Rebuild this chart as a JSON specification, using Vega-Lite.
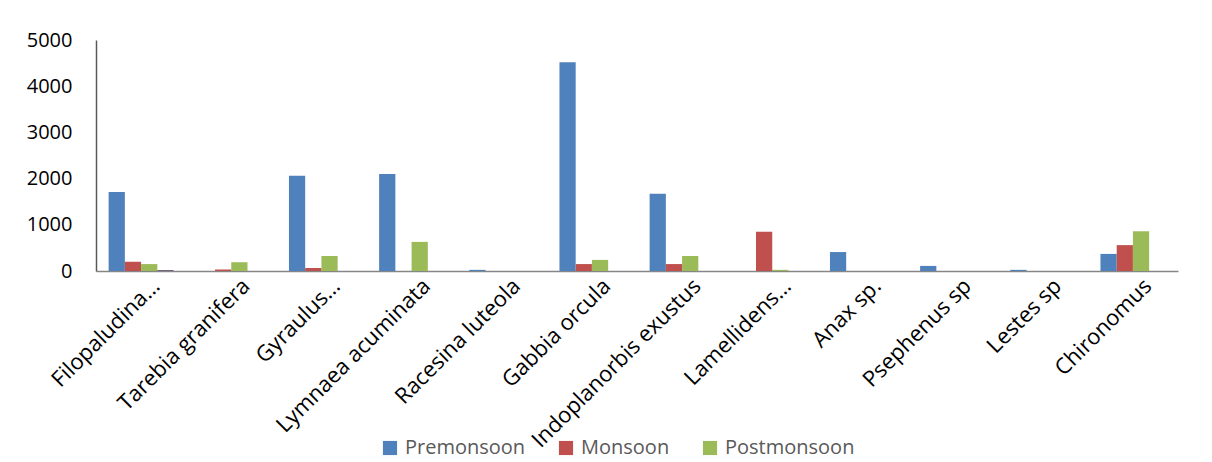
{
  "$schema": "https://vega.github.io/schema/vega-lite/v6.json",
  "autosize": "none",
  "width": 1082,
  "height": 231,
  "padding": {"left": 96, "top": 40, "right": 34, "bottom": 191},
  "background": "white",
  "config": {
    "view": {"stroke": null},
    "font": "Open Sans"
  },
  "data": {
    "values": [
      {"species": "Filopaludina…", "season": "Premonsoon", "count": 1710},
      {"species": "Filopaludina…", "season": "Monsoon", "count": 200},
      {"species": "Filopaludina…", "season": "Postmonsoon", "count": 150},
      {"species": "Filopaludina…", "season": "Other", "count": 15},
      {"species": "Tarebia granifera", "season": "Premonsoon", "count": 0},
      {"species": "Tarebia granifera", "season": "Monsoon", "count": 30},
      {"species": "Tarebia granifera", "season": "Postmonsoon", "count": 190},
      {"species": "Gyraulus…", "season": "Premonsoon", "count": 2060},
      {"species": "Gyraulus…", "season": "Monsoon", "count": 65},
      {"species": "Gyraulus…", "season": "Postmonsoon", "count": 325},
      {"species": "Lymnaea acuminata", "season": "Premonsoon", "count": 2100},
      {"species": "Lymnaea acuminata", "season": "Monsoon", "count": 0},
      {"species": "Lymnaea acuminata", "season": "Postmonsoon", "count": 630},
      {"species": "Racesina luteola", "season": "Premonsoon", "count": 25},
      {"species": "Racesina luteola", "season": "Monsoon", "count": 0},
      {"species": "Racesina luteola", "season": "Postmonsoon", "count": 0},
      {"species": "Gabbia orcula", "season": "Premonsoon", "count": 4520},
      {"species": "Gabbia orcula", "season": "Monsoon", "count": 150},
      {"species": "Gabbia orcula", "season": "Postmonsoon", "count": 240},
      {"species": "Indoplanorbis exustus", "season": "Premonsoon", "count": 1670},
      {"species": "Indoplanorbis exustus", "season": "Monsoon", "count": 150},
      {"species": "Indoplanorbis exustus", "season": "Postmonsoon", "count": 325},
      {"species": "Lamellidens…", "season": "Premonsoon", "count": 0},
      {"species": "Lamellidens…", "season": "Monsoon", "count": 850},
      {"species": "Lamellidens…", "season": "Postmonsoon", "count": 25},
      {"species": "Anax sp.", "season": "Premonsoon", "count": 410},
      {"species": "Anax sp.", "season": "Monsoon", "count": 0},
      {"species": "Anax sp.", "season": "Postmonsoon", "count": 0},
      {"species": "Psephenus sp", "season": "Premonsoon", "count": 110},
      {"species": "Psephenus sp", "season": "Monsoon", "count": 0},
      {"species": "Psephenus sp", "season": "Postmonsoon", "count": 0},
      {"species": "Lestes sp", "season": "Premonsoon", "count": 25},
      {"species": "Lestes sp", "season": "Monsoon", "count": 0},
      {"species": "Lestes sp", "season": "Postmonsoon", "count": 0},
      {"species": "Chironomus", "season": "Premonsoon", "count": 370},
      {"species": "Chironomus", "season": "Monsoon", "count": 560},
      {"species": "Chironomus", "season": "Postmonsoon", "count": 860}
    ]
  },
  "mark": {"type": "bar"},
  "encoding": {
    "x": {
      "field": "species",
      "type": "nominal",
      "sort": null,
      "scale": {"paddingInner": 0.28, "paddingOuter": 0.14},
      "axis": {
        "title": null,
        "labelAngle": -45,
        "labelFontSize": 22,
        "labelColor": "#000000",
        "labelPadding": 4,
        "labelOffset": 8,
        "labelLimit": 0,
        "ticks": false,
        "domainColor": "#868686",
        "domainWidth": 1.5
      }
    },
    "xOffset": {
      "field": "season",
      "type": "nominal",
      "scale": {"domain": ["Premonsoon", "Monsoon", "Postmonsoon", "Other"], "paddingInner": 0, "paddingOuter": 0}
    },
    "y": {
      "field": "count",
      "type": "quantitative",
      "scale": {"domain": [0, 5000], "nice": false},
      "axis": {
        "title": null,
        "values": [0, 1000, 2000, 3000, 4000, 5000],
        "format": "d",
        "grid": false,
        "ticks": false,
        "labelFontSize": 20,
        "labelColor": "#000000",
        "labelPadding": 24,
        "domainColor": "#595959",
        "domainWidth": 1.5
      }
    },
    "color": {
      "field": "season",
      "type": "nominal",
      "scale": {
        "domain": ["Premonsoon", "Monsoon", "Postmonsoon", "Other"],
        "range": ["#4F81BD", "#C0504D", "#9BBB59", "#4B3A63"]
      },
      "legend": {
        "title": null,
        "values": ["Premonsoon", "Monsoon", "Postmonsoon"],
        "orient": "none",
        "direction": "horizontal",
        "legendX": 284,
        "legendY": 398,
        "symbolType": "square",
        "symbolSize": 200,
        "symbolStrokeWidth": 0,
        "labelFontSize": 20,
        "labelColor": "#595959",
        "columnPadding": 30,
        "labelOffset": 5
      }
    }
  }
}
